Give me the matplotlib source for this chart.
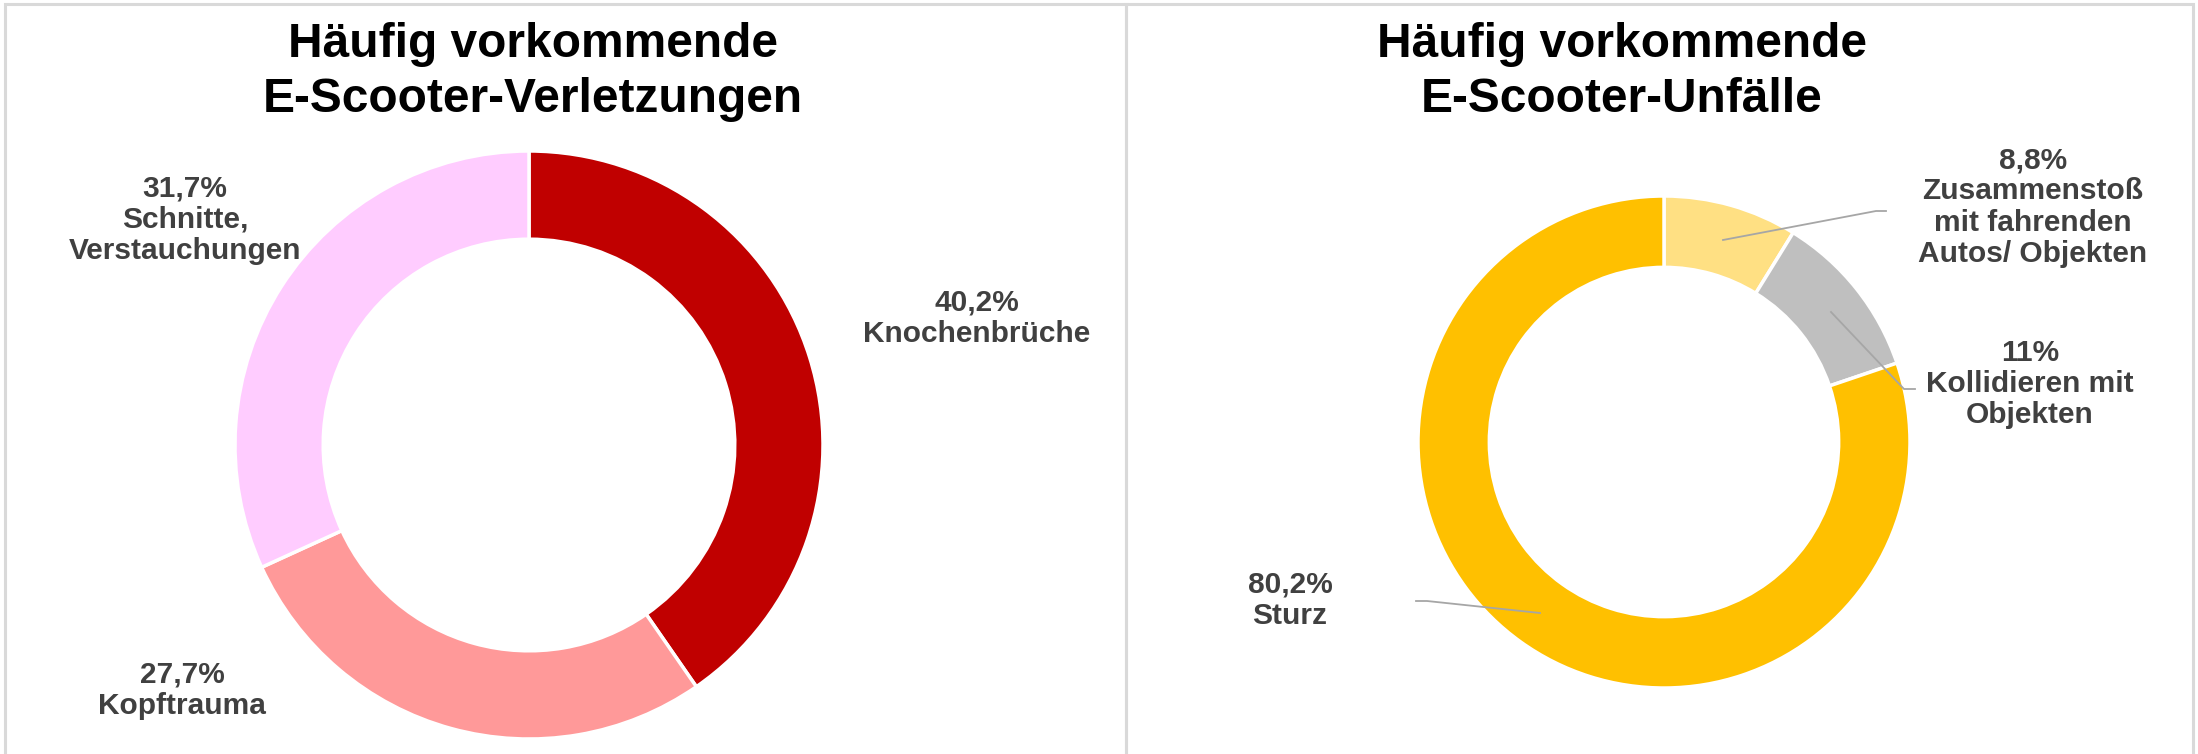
"""Two donut charts: E-Scooter injuries and accidents."""

import matplotlib

matplotlib.use("Agg")
import matplotlib.pyplot as plt  # noqa: E402
from matplotlib.patches import Rectangle  # noqa: E402

W, H = 2198, 754

# left chart: injuries
inj_labels = ["Knochenbrüche", "Kopftrauma", "Schnitte,\nVerstauchungen"]
inj_values = [40.2, 27.7, 31.7]
inj_pct = ["40,2%", "27,7%", "31,7%"]
inj_colors = ["#C00000", "#FF9999", "#FFCCFF"]

# right chart: accidents
acc_labels = ["Zusammenstoß\nmit fahrenden\nAutos/ Objekten", "Kollidieren mit\nObjekten", "Sturz"]
acc_values = [8.8, 11.0, 80.2]
acc_pct = ["8,8%", "11%", "80,2%"]
acc_colors = ["#FFE083", "#BFBFBF", "#FFC000"]

TITLE_1 = ["Häufig vorkommende", "E-Scooter-Verletzungen"]
TITLE_2 = ["Häufig vorkommende", "E-Scooter-Unfälle"]

plt.rcParams["font.family"] = ["Liberation Sans", "DejaVu Sans"]
LABEL_COLOR = "#404040"
LEADER = "#A6A6A6"


def py(y):
    # pixel row (from top) -> axis y (from bottom)
    return H - y


fig = plt.figure(figsize=(W / 100, H / 100), dpi=100)
fig.patch.set_facecolor("white")
ax = fig.add_axes([0, 0, 1, 1])

# left donut
r1 = 294
ax.pie(inj_values, colors=inj_colors, startangle=90, counterclock=False,
       center=(529, py(445)), radius=r1, frame=True,
       wedgeprops=dict(width=r1 * 0.30, edgecolor="white", linewidth=2.5))

# right donut
r2 = 246
ax.pie(acc_values, colors=acc_colors, startangle=90, counterclock=False,
       center=(1664, py(442)), radius=r2, frame=True,
       wedgeprops=dict(width=r2 * 0.29, edgecolor="white", linewidth=2.5))
ax.set_xlim(0, W)
ax.set_ylim(0, H)
ax.set_aspect("equal")
ax.axis("off")

# panel frames
for x0, x1 in [(5, 1126), (1126, 2193)]:
    ax.add_patch(Rectangle((x0, -10), x1 - x0, py(4) + 10, fill=False,
                           edgecolor="#D9D9D9", linewidth=2.2))

title_kw = dict(fontsize=34.5, fontweight="bold", color="black", ha="center", va="baseline")
for cx, lines in [(533, TITLE_1), (1622, TITLE_2)]:
    ax.text(cx, py(57), lines[0], **title_kw)
    ax.text(cx, py(112), lines[1], **title_kw)

lab_kw = dict(fontsize=21.5, fontweight="bold", color=LABEL_COLOR, ha="center", va="center",
              linespacing=1.15)

inj_pos = [(977, 318), (182, 690), (185, 220)]
for pct, lab, (x, y) in zip(inj_pct, inj_labels, inj_pos):
    ax.text(x, py(y), f"{pct}\n{lab}", **lab_kw)

acc_pos = [(2033, 207), (2030, 384), (1290, 600)]
for pct, lab, (x, y) in zip(acc_pct, acc_labels, acc_pos):
    ax.text(x, py(y), f"{pct}\n{lab}", **lab_kw)

# leader lines for the right chart
leaders = [
    [(1723, 240), (1876, 211), (1886, 211)],
    [(1831, 312), (1904, 389), (1915, 389)],
    [(1540, 613), (1427, 601), (1416, 601)],
]
for pts in leaders:
    ax.plot([p[0] for p in pts], [py(p[1]) for p in pts], color=LEADER, linewidth=1.3)

fig.savefig("out.png", dpi=100, facecolor="white")
